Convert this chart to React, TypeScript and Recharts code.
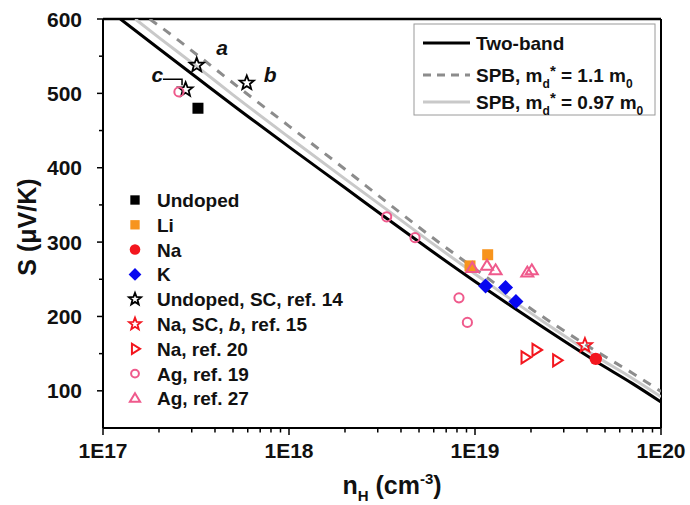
import React from "react";
import {
  ComposedChart,
  Line,
  Scatter,
  XAxis,
  YAxis,
  ReferenceLine,
  Legend,
} from "recharts";

const W = 690;
const H = 505;
const FONT = "'Liberation Sans', Arial, sans-serif";

const ORANGE = "#f7941d";
const RED = "#f3161e";
const BLUE = "#0808f0";
const PINK = "#ef5a8c";
const LIGHT = "#c9c9c9";
const DASHED = "#8c8c8c";

// model curves: n_H (cm^-3) vs S (µV/K)
const twoBandN = [1.24e17, 2e17, 3.2e17, 5e17, 1e18, 2e18, 3.3e18, 5.7e18, 1e19, 1.5e19, 2.3e19, 4.5e19, 7e19, 1e20];
const twoBandS = [600, 560, 521, 484, 428, 373, 333, 290, 247, 217, 186, 139, 110, 85];
const spb11N = [1.78e17, 2e17, 3.2e17, 5e17, 1e18, 2e18, 3.3e18, 5.7e18, 1e19, 1.5e19, 2.3e19, 4.5e19, 7e19, 1e20];
const spb11S = [600, 591, 552, 514, 456, 398, 355, 309, 264, 232, 200, 153, 124, 99];
const spb097N = [1.49e17, 2e17, 3.2e17, 5e17, 1e18, 2e18, 3.3e18, 5.7e18, 1e19, 1.5e19, 2.3e19, 4.5e19, 7e19, 1e20];
const spb097S = [600, 575, 536, 498, 441, 385, 345, 301, 257, 226, 194, 146, 117, 92];

// measured points
const undopedN = [3.24e17];
const undopedS = [480];
const liN = [9.4e18, 1.17e19];
const liS = [268, 283];
const naN = [4.46e19];
const naS = [143];
const kN = [1.14e19, 1.46e19, 1.66e19];
const kS = [241, 239, 220];
const undopedScN = [3.19e17, 5.93e17, 2.78e17];
const undopedScS = [538, 514, 505];
const naScN = [3.9e19];
const naScS = [161];
const na20N = [1.86e19, 2.13e19, 2.75e19];
const na20S = [145, 155, 141];
const ag19N = [2.56e17, 3.35e18, 4.76e18, 8.2e18, 9.1e18];
const ag19S = [502, 334, 306, 225, 192];
const ag27N = [9.67e18, 1.16e19, 1.29e19, 1.91e19, 2.02e19];
const ag27S = [265, 268, 262, 259, 262];

// sample labels a, b, c and the little bracket next to c
const noteText = ["a", "b", "c"];
const noteN = [4.37e17, 7.91e17, 1.96e17];
const noteS = [552, 515, 515];
const bracketN = [2.1e17, 2.66e17, 2.66e17];
const bracketS = [519, 519, 511];

const xTickLabels = ["1E17", "1E18", "1E19", "1E20"];
const yTickLabels = ["100", "200", "300", "400", "500", "600"];

const toPoints = (n: number[], s: number[]) => n.map((x, i) => ({ x, y: s[i] }));

const xTicks: number[] = [];
[17, 18, 19].forEach((d) => {
  for (let m = 1; m < 10; m++) xTicks.push(m * Math.pow(10, d));
});
xTicks.push(1e20);
const yTicks = [100, 150, 200, 250, 300, 350, 400, 450, 500, 550, 600];

type Kind =
  | "sqBlack"
  | "sqOrange"
  | "dotRed"
  | "diamond"
  | "starBlack"
  | "starRed"
  | "triRight"
  | "circPink"
  | "triUp";

function starPath(cx: number, cy: number, ro: number, ri: number) {
  const pts: string[] = [];
  for (let i = 0; i < 10; i++) {
    const r = i % 2 === 0 ? ro : ri;
    const a = -Math.PI / 2 + (i * Math.PI) / 5;
    pts.push(`${cx + r * Math.cos(a)},${cy + r * Math.sin(a)}`);
  }
  return pts.join(" ");
}

function Marker({ kind, cx, cy, k = 1 }: { kind: Kind; cx: number; cy: number; k?: number }) {
  switch (kind) {
    case "sqBlack":
    case "sqOrange": {
      const h = 5.5 * k;
      return <rect x={cx - h} y={cy - h} width={2 * h} height={2 * h} fill={kind === "sqBlack" ? "#000" : ORANGE} />;
    }
    case "dotRed":
      return <circle cx={cx} cy={cy} r={6.2 * k} fill={RED} />;
    case "diamond": {
      const r = 7.5 * k;
      return <polygon points={`${cx},${cy - r} ${cx + r},${cy} ${cx},${cy + r} ${cx - r},${cy}`} fill={BLUE} />;
    }
    case "starBlack":
    case "starRed":
      return (
        <polygon
          points={starPath(cx, cy, 7.5 * k, 3.2 * k)}
          fill="none"
          stroke={kind === "starBlack" ? "#000" : RED}
          strokeWidth={1.8}
        />
      );
    case "triRight": {
      const r = 6 * k;
      return (
        <polygon
          points={`${cx + r},${cy} ${cx - r * 0.6},${cy - r} ${cx - r * 0.6},${cy + r}`}
          fill="none"
          stroke={RED}
          strokeWidth={2}
        />
      );
    }
    case "circPink":
      return <circle cx={cx} cy={cy} r={4.6 * k} fill="none" stroke={PINK} strokeWidth={2} />;
    case "triUp": {
      const r = 6 * k;
      return (
        <polygon
          points={`${cx},${cy - r} ${cx + r},${cy + r * 0.65} ${cx - r},${cy + r * 0.65}`}
          fill="none"
          stroke={PINK}
          strokeWidth={2}
        />
      );
    }
  }
  return null;
}

const shapeOf = (kind: Kind) => (p: any) => <Marker kind={kind} cx={p.cx} cy={p.cy} />;

const pointSeries: { kind: Kind; label: React.ReactNode; data: { x: number; y: number }[] }[] = [
  { kind: "sqBlack", label: "Undoped", data: toPoints(undopedN, undopedS) },
  { kind: "sqOrange", label: "Li", data: toPoints(liN, liS) },
  { kind: "dotRed", label: "Na", data: toPoints(naN, naS) },
  { kind: "diamond", label: "K", data: toPoints(kN, kS) },
  { kind: "starBlack", label: "Undoped, SC, ref. 14", data: toPoints(undopedScN, undopedScS) },
  {
    kind: "starRed",
    label: (
      <>
        Na, SC, <tspan fontStyle="italic">b</tspan>, ref. 15
      </>
    ),
    data: toPoints(naScN, naScS),
  },
  { kind: "triRight", label: "Na, ref. 20", data: toPoints(na20N, na20S) },
  { kind: "circPink", label: "Ag, ref. 19", data: toPoints(ag19N, ag19S) },
  { kind: "triUp", label: "Ag, ref. 27", data: toPoints(ag27N, ag27S) },
];

const XTick = ({ x, y, payload }: any) => {
  const v = payload.value as number;
  const e = Math.log10(v);
  const major = Math.abs(e - Math.round(e)) < 1e-6;
  return (
    <g>
      <line x1={x} x2={x} y1={y} y2={y + (major ? 7 : 4.5)} stroke="#000" strokeWidth={1.5} />
      {major && (
        <text x={x} y={y + 30} textAnchor="middle" fontSize={21} fontWeight="bold" fontFamily={FONT} fill="#111">
          {xTickLabels[Math.round(e) - 17]}
        </text>
      )}
    </g>
  );
};

const YTick = ({ x, y, payload }: any) => {
  const v = payload.value as number;
  const major = v % 100 === 0;
  return (
    <g>
      <line x1={x} x2={x - (major ? 6 : 4)} y1={y} y2={y} stroke="#000" strokeWidth={1.5} />
      {major && (
        <text x={x - 21} y={y + 7.5} textAnchor="end" fontSize={21} fontWeight="bold" fontFamily={FONT} fill="#111">
          {yTickLabels[v / 100 - 1]}
        </text>
      )}
    </g>
  );
};

const XTitle = () => (
  <text x={392} y={494} textAnchor="middle" fontSize={25} fontWeight="bold" fontFamily={FONT} fill="#111">
    n<tspan dy={7} fontSize={15}>H</tspan>
    <tspan dy={-7}> (cm</tspan>
    <tspan dy={-10} fontSize={15}>-3</tspan>
    <tspan dy={10}>)</tspan>
  </text>
);

const YTitle = () => (
  <text
    x={36}
    y={227}
    transform="rotate(-90 36 227)"
    textAnchor="middle"
    fontSize={25}
    fontWeight="bold"
    fontFamily={FONT}
    fill="#111"
  >
    S (μV/K)
  </text>
);

const LegendOverlay = () => {
  const rowY = [43, 75, 102];
  return (
    <svg width={W} height={H} fontFamily={FONT} fontWeight="bold" fill="#111" style={{ display: "block" }}>
      {/* curve legend */}
      <rect x={414} y={24} width={241} height={91} fill="#fff" stroke="#9a9a9a" strokeWidth={1} />
      <line x1={423} x2={470} y1={rowY[0]} y2={rowY[0]} stroke="#000" strokeWidth={3} />
      <line x1={423} x2={470} y1={rowY[1]} y2={rowY[1]} stroke={DASHED} strokeWidth={3} strokeDasharray="8 6" />
      <line x1={423} x2={470} y1={rowY[2]} y2={rowY[2]} stroke={LIGHT} strokeWidth={3} />
      <text x={476} y={rowY[0] + 7} fontSize={19}>Two-band</text>
      <text x={476} y={rowY[1] + 7} fontSize={19}>
        SPB, m<tspan dy={6} fontSize={12}>d</tspan>
        <tspan dy={-12} fontSize={15}>*</tspan>
        <tspan dy={6}> = 1.1 m</tspan>
        <tspan dy={6} fontSize={12}>0</tspan>
      </text>
      <text x={476} y={rowY[2] + 7} fontSize={19}>
        SPB, m<tspan dy={6} fontSize={12}>d</tspan>
        <tspan dy={-12} fontSize={15}>*</tspan>
        <tspan dy={6}> = 0.97 m</tspan>
        <tspan dy={6} fontSize={12}>0</tspan>
      </text>
      {/* point legend */}
      {pointSeries.map((s, i) => {
        const cy = 200 + i * 24.8;
        return (
          <g key={i}>
            <Marker kind={s.kind} cx={135} cy={cy} k={0.85} />
            <text x={157} y={cy + 7} fontSize={19}>
              {s.label}
            </text>
          </g>
        );
      })}
    </svg>
  );
};

export default function App() {
  return (
    <div style={{ position: "absolute", left: 0, top: 0, width: W, height: H, background: "#fff", fontFamily: FONT }}>
      <ComposedChart width={W} height={H} margin={{ top: 19, right: 29, bottom: 0, left: 0 }}>
        <XAxis
          dataKey="x"
          type="number"
          scale="log"
          domain={[1e17, 1e20]}
          allowDataOverflow
          ticks={xTicks}
          interval={0}
          tick={<XTick />}
          tickLine={false}
          tickSize={0}
          tickMargin={0}
          axisLine={{ stroke: "#000", strokeWidth: 2 }}
          height={77}
          label={{ content: () => <XTitle /> }}
        />
        <YAxis
          dataKey="y"
          type="number"
          domain={[50, 600]}
          allowDataOverflow
          ticks={yTicks}
          interval={0}
          tick={<YTick />}
          tickLine={false}
          tickSize={0}
          tickMargin={0}
          axisLine={{ stroke: "#000", strokeWidth: 2 }}
          width={103}
          label={{ content: () => <YTitle /> }}
        />
        <ReferenceLine y={600} stroke="#000" strokeWidth={2.5} />
        <ReferenceLine x={1e20} stroke="#000" strokeWidth={2} />

        <Line data={toPoints(spb097N, spb097S)} dataKey="y" type="monotone" stroke={LIGHT} strokeWidth={3} dot={false} isAnimationActive={false} />
        <Line
          data={toPoints(spb11N, spb11S)}
          dataKey="y"
          type="monotone"
          stroke={DASHED}
          strokeWidth={3}
          strokeDasharray="9 8"
          dot={false}
          isAnimationActive={false}
        />
        <Line data={toPoints(twoBandN, twoBandS)} dataKey="y" type="monotone" stroke="#000" strokeWidth={3} dot={false} isAnimationActive={false} />
        <Line data={toPoints(bracketN, bracketS)} dataKey="y" type="linear" stroke="#000" strokeWidth={1.5} dot={false} isAnimationActive={false} />

        {pointSeries.map((s, i) => (
          <Scatter key={i} data={s.data} dataKey="y" shape={shapeOf(s.kind)} isAnimationActive={false} />
        ))}

        <Scatter
          data={noteN.map((x, i) => ({ x, y: noteS[i], t: noteText[i] }))}
          dataKey="y"
          isAnimationActive={false}
          shape={(p: any) => (
            <text x={p.cx} y={p.cy} textAnchor="middle" fontSize={21} fontWeight="bold" fontStyle="italic" fontFamily={FONT} fill="#111">
              {p.payload.t}
            </text>
          )}
        />

        <Legend
          layout="vertical"
          align="center"
          verticalAlign="middle"
          wrapperStyle={{ position: "absolute", left: 0, top: 0, width: W, height: H, pointerEvents: "none" }}
          content={() => <LegendOverlay />}
        />
      </ComposedChart>
    </div>
  );
}
